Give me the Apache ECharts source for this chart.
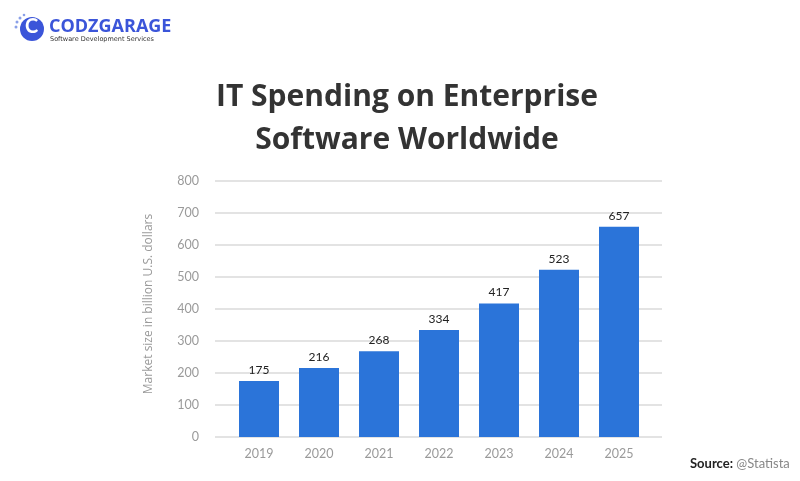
<!DOCTYPE html>
<html><head><meta charset="utf-8">
<script src="https://cdn.jsdelivr.net/npm/echarts@6/dist/echarts.min.js"></script>
<style>html,body{margin:0;padding:0;background:#fff}#c{width:800px;height:481px}</style>
</head><body><div id="c"></div>
<script>
const categories = ['2019','2020','2021','2022','2023','2024','2025'];
const marketSize = [175, 216, 268, 334, 417, 523, 657];
const yTicks = [0, 100, 200, 300, 400, 500, 600, 700, 800];
const yName = 'Market size in billion U.S. dollars';

const chart = echarts.init(document.getElementById('c'));
const gridTop = 181, gridBottom = 481 - 437;
chart.setOption({
  backgroundColor: '#fff',
  animation: false,
  title: {
    text: 'IT Spending on Enterprise\nSoftware Worldwide',
    left: 402, top: 71, textAlign: 'center',
    textStyle: { fontFamily: 'Open Sans', fontWeight: 'bold', fontSize: 30, lineHeight: 43, color: '#333' }
  },
  grid: [
    { left: 215, right: 800 - 662, top: gridTop, bottom: gridBottom },
    { left: 229, right: 800 - 649, top: gridTop, bottom: gridBottom }
  ],
  xAxis: [
    { gridIndex: 0, type: 'value', show: false, min: 0, max: 1 },
    { gridIndex: 1, type: 'category', data: categories,
      axisLine: { show: false }, axisTick: { show: false },
      axisLabel: { color: '#9a9a9a', fontSize: 12.5, fontFamily: 'Lato', margin: 10 } }
  ],
  yAxis: [
    { gridIndex: 0, type: 'value', min: yTicks[0], max: yTicks[yTicks.length - 1], interval: 100,
      axisLine: { show: false }, axisTick: { show: false },
      axisLabel: { color: '#9a9a9a', fontSize: 12.5, fontFamily: 'Lato', margin: 16 },
      splitLine: { lineStyle: { color: '#e3e3e3', width: 2 } } },
    { gridIndex: 1, type: 'value', min: 0, max: 800, show: false }
  ],
  series: [{
    type: 'bar', xAxisIndex: 1, yAxisIndex: 1, data: marketSize, barWidth: 40,
    itemStyle: { color: '#2b74d9' },
    label: { show: true, position: 'top', color: '#222', fontSize: 12, fontFamily: 'Lato', distance: 5 }
  }],
  graphic: [
    { type: 'text', x: 149, y: 304, rotation: Math.PI / 2,
      style: { text: yName, fill: '#9a9a9a', font: '12px "Open Sans"', align: 'center', verticalAlign: 'middle' } },
    { type: 'circle', shape: { cx: 32, cy: 29, r: 12 }, style: { fill: '#3b55d9' } },
    { type: 'text', left: 25, top: 17, style: { text: 'C', fill: '#fff', font: 'bold 20px Lato' } },
    { type: 'circle', shape: { cx: 17, cy: 22, r: 1.5 }, style: { fill: '#8aa0e8' } },
    { type: 'circle', shape: { cx: 20, cy: 18, r: 1.5 }, style: { fill: '#8aa0e8' } },
    { type: 'circle', shape: { cx: 16, cy: 27, r: 1.5 }, style: { fill: '#8aa0e8' } },
    { type: 'circle', shape: { cx: 24, cy: 15, r: 1.3 }, style: { fill: '#8aa0e8' } },
    { type: 'text', left: 49, top: 18, style: { text: 'CODZGARAGE', fill: '#3b55d9', font: 'bold 18px "Open Sans"' } },
    { type: 'text', left: 50, top: 36, style: { text: 'Software Development Services', fill: '#333', font: '6.5px "DejaVu Sans"' } },
    { type: 'text', left: 690, top: 457, style: { rich: { a: { fill: '#222', font: 'bold 13px Lato' }, b: { fill: '#888', font: '13px Lato' } }, text: '{a|Source:} {b|@Statista}' } }
  ]
});
</script></body></html>
